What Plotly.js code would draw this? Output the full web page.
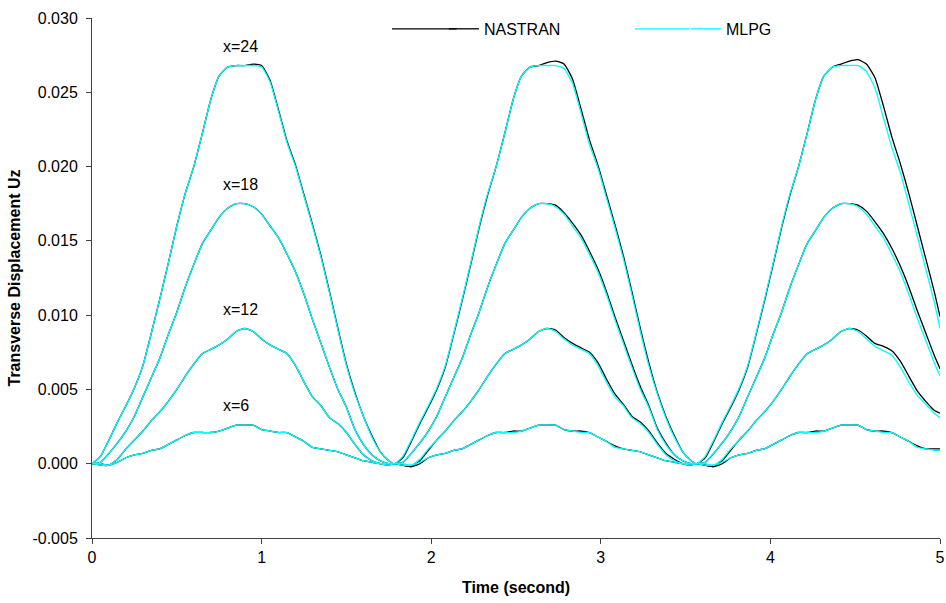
<!DOCTYPE html>
<html>
<head>
<meta charset="utf-8">
<script src="https://cdn.plot.ly/plotly-3.0.1.min.js"></script>
<style>html,body{margin:0;padding:0;background:#fff;}#chart{width:946px;height:603px;}</style>
</head>
<body>
<div id="chart"></div>
<script>
// Time (second)
const time = [
0,0.05,0.1,0.15,0.2,0.25,0.3,0.35,0.4,0.45,0.5,0.55,0.6,0.65,0.7,0.75,0.8,0.85,0.9,0.95,1,1.05,1.1,1.15,1.2,1.25,1.3,1.35,1.4,1.45,1.5,1.55,1.6,1.65,1.7,1.75,
1.783,1.833,1.883,1.933,1.983,2.033,2.083,2.133,2.183,2.233,2.283,2.333,2.383,2.433,2.483,2.533,2.583,2.633,2.683,2.733,2.783,2.833,2.883,2.933,2.983,3.033,3.083,3.133,3.183,3.233,3.283,3.333,3.383,3.433,3.483,3.533,
3.566,3.616,3.666,3.716,3.766,3.816,3.866,3.916,3.966,4.016,4.066,4.116,4.166,4.216,4.266,4.316,4.366,4.416,4.466,4.516,4.566,4.616,4.666,4.716,4.766,4.816,4.866,4.916,4.966,5
];

// NASTRAN series
const nastranX24 = [
0,0.0005,0.0016,0.0028,0.0039,0.0051,0.0066,0.0088,0.0111,0.0135,0.0160,0.0182,0.0200,0.0222,0.0245,0.0261,0.0267,0.0268,0.0268,0.0269,0.0268,0.0258,0.0238,0.0217,0.0201,0.0181,0.0161,0.0140,0.0116,0.0091,0.0067,0.0048,0.0032,0.0019,0.0008,0.0002,
0,0.0004,0.0015,0.0027,0.0038,0.0050,0.0065,0.0087,0.0110,0.0134,0.0159,0.0181,0.0200,0.0222,0.0245,0.0261,0.0267,0.0268,0.0270,0.0271,0.0269,0.0259,0.0239,0.0218,0.0201,0.0181,0.0161,0.0140,0.0116,0.0091,0.0068,0.0048,0.0032,0.0019,0.0008,0.0002,
0,0.0004,0.0015,0.0027,0.0038,0.0050,0.0065,0.0087,0.0110,0.0134,0.0159,0.0181,0.0200,0.0222,0.0245,0.0261,0.0267,0.0269,0.0271,0.0272,0.0269,0.0260,0.0241,0.0220,0.0202,0.0182,0.0160,0.0138,0.0116,0.0099
];
const nastranX18 = [
0,0.0001,0.0007,0.0014,0.0022,0.0032,0.0045,0.0058,0.0071,0.0087,0.0102,0.0119,0.0134,0.0148,0.0157,0.0166,0.0172,0.0175,0.0175,0.0173,0.0168,0.0160,0.0152,0.0141,0.0129,0.0114,0.0097,0.0081,0.0065,0.0050,0.0038,0.0023,0.0013,0.0006,0.0002,0.0000,
0,0.0001,0.0007,0.0014,0.0022,0.0032,0.0045,0.0058,0.0071,0.0087,0.0102,0.0119,0.0134,0.0148,0.0157,0.0166,0.0172,0.0175,0.0175,0.0174,0.0169,0.0162,0.0154,0.0143,0.0131,0.0116,0.0099,0.0083,0.0067,0.0052,0.0039,0.0024,0.0014,0.0006,0.0002,0.0000,
0,0.0001,0.0007,0.0014,0.0022,0.0032,0.0045,0.0058,0.0071,0.0087,0.0102,0.0119,0.0134,0.0148,0.0157,0.0166,0.0172,0.0175,0.0175,0.0174,0.0170,0.0163,0.0155,0.0145,0.0133,0.0119,0.0103,0.0088,0.0073,0.0064
];
const nastranX12 = [
0,-0.0001,-0.0001,0.0003,0.0010,0.0016,0.0022,0.0029,0.0035,0.0042,0.0050,0.0059,0.0067,0.0074,0.0077,0.0080,0.0084,0.0089,0.0091,0.0089,0.0084,0.0080,0.0077,0.0074,0.0066,0.0055,0.0045,0.0039,0.0031,0.0027,0.0021,0.0013,0.0006,0.0002,0.0000,-0.0001,
0,-0.0001,-0.0002,0.0002,0.0009,0.0016,0.0022,0.0029,0.0035,0.0042,0.0050,0.0059,0.0067,0.0074,0.0077,0.0080,0.0084,0.0089,0.0091,0.0090,0.0085,0.0081,0.0078,0.0075,0.0068,0.0057,0.0047,0.0040,0.0032,0.0028,0.0022,0.0014,0.0007,0.0003,0.0000,-0.0001,
0,-0.0001,-0.0002,0.0002,0.0009,0.0016,0.0022,0.0029,0.0035,0.0042,0.0050,0.0059,0.0067,0.0074,0.0077,0.0080,0.0084,0.0089,0.0091,0.0090,0.0086,0.0081,0.0079,0.0076,0.0069,0.0059,0.0049,0.0042,0.0036,0.0034
];
const nastranX6 = [
0,0.0000,-0.0001,0.0001,0.0004,0.0006,0.0007,0.0009,0.0010,0.0013,0.0016,0.0019,0.0021,0.0021,0.0021,0.0022,0.0024,0.0026,0.0026,0.0026,0.0023,0.0022,0.0021,0.0021,0.0018,0.0015,0.0011,0.0010,0.0009,0.0008,0.0006,0.0004,0.0002,0.0001,0.0000,0.0000,
0,-0.0001,-0.0002,0.0000,0.0004,0.0006,0.0007,0.0009,0.0010,0.0013,0.0016,0.0019,0.0021,0.0021,0.0022,0.0022,0.0024,0.0026,0.0026,0.0026,0.0023,0.0022,0.0022,0.0021,0.0018,0.0015,0.0012,0.0010,0.0009,0.0008,0.0006,0.0004,0.0002,0.0001,0.0000,0.0000,
0,-0.0001,-0.0002,0.0000,0.0004,0.0006,0.0007,0.0009,0.0010,0.0013,0.0016,0.0019,0.0021,0.0021,0.0022,0.0022,0.0024,0.0026,0.0026,0.0026,0.0023,0.0022,0.0022,0.0021,0.0018,0.0015,0.0012,0.0010,0.0010,0.0010
];

// MLPG series
const mlpgX24 = [
0,0.0005,0.0016,0.0028,0.0039,0.0051,0.0066,0.0088,0.0111,0.0135,0.0160,0.0182,0.0200,0.0222,0.0245,0.0261,0.0267,0.0268,0.0268,0.0268,0.0267,0.0257,0.0237,0.0216,0.0200,0.0180,0.0160,0.0139,0.0115,0.0090,0.0066,0.0047,0.0032,0.0018,0.0008,0.0002,
0,0.0005,0.0016,0.0028,0.0039,0.0051,0.0066,0.0088,0.0111,0.0135,0.0160,0.0182,0.0200,0.0222,0.0245,0.0261,0.0267,0.0268,0.0268,0.0268,0.0266,0.0256,0.0236,0.0215,0.0199,0.0179,0.0159,0.0138,0.0114,0.0089,0.0066,0.0047,0.0031,0.0018,0.0008,0.0002,
0,0.0005,0.0016,0.0028,0.0039,0.0051,0.0066,0.0088,0.0111,0.0135,0.0160,0.0182,0.0200,0.0222,0.0245,0.0261,0.0267,0.0268,0.0268,0.0268,0.0264,0.0253,0.0233,0.0213,0.0196,0.0175,0.0153,0.0131,0.0109,0.0091
];
const mlpgX18 = [
0,0.0001,0.0007,0.0014,0.0022,0.0032,0.0045,0.0058,0.0071,0.0087,0.0102,0.0119,0.0134,0.0148,0.0157,0.0166,0.0172,0.0175,0.0175,0.0173,0.0168,0.0160,0.0152,0.0141,0.0129,0.0114,0.0097,0.0081,0.0065,0.0050,0.0038,0.0023,0.0013,0.0006,0.0002,0.0000,
0,0.0001,0.0007,0.0014,0.0022,0.0032,0.0045,0.0058,0.0071,0.0087,0.0102,0.0119,0.0134,0.0148,0.0157,0.0166,0.0172,0.0175,0.0175,0.0173,0.0168,0.0160,0.0152,0.0141,0.0129,0.0114,0.0097,0.0081,0.0065,0.0050,0.0038,0.0023,0.0013,0.0006,0.0002,0.0000,
0,0.0001,0.0007,0.0014,0.0022,0.0032,0.0045,0.0058,0.0071,0.0087,0.0102,0.0119,0.0134,0.0148,0.0157,0.0166,0.0172,0.0175,0.0175,0.0173,0.0168,0.0160,0.0152,0.0141,0.0129,0.0114,0.0098,0.0083,0.0068,0.0059
];
const mlpgX12 = [
0,-0.0001,-0.0001,0.0003,0.0010,0.0016,0.0022,0.0029,0.0035,0.0042,0.0050,0.0059,0.0067,0.0074,0.0077,0.0080,0.0084,0.0089,0.0091,0.0089,0.0084,0.0080,0.0077,0.0074,0.0066,0.0055,0.0045,0.0039,0.0031,0.0027,0.0021,0.0013,0.0006,0.0002,0.0000,-0.0001,
0,-0.0001,-0.0001,0.0003,0.0010,0.0016,0.0022,0.0029,0.0035,0.0042,0.0050,0.0059,0.0067,0.0074,0.0077,0.0080,0.0084,0.0089,0.0091,0.0089,0.0084,0.0080,0.0077,0.0074,0.0066,0.0055,0.0045,0.0039,0.0031,0.0027,0.0021,0.0013,0.0006,0.0002,0.0000,-0.0001,
0,-0.0001,-0.0001,0.0003,0.0010,0.0016,0.0022,0.0029,0.0035,0.0042,0.0050,0.0059,0.0067,0.0074,0.0077,0.0080,0.0084,0.0089,0.0091,0.0089,0.0084,0.0079,0.0076,0.0073,0.0065,0.0055,0.0046,0.0040,0.0034,0.0031
];
const mlpgX6 = [
0,0.0000,-0.0001,0.0001,0.0004,0.0006,0.0007,0.0009,0.0010,0.0013,0.0016,0.0019,0.0021,0.0021,0.0021,0.0022,0.0024,0.0026,0.0026,0.0026,0.0023,0.0022,0.0021,0.0021,0.0018,0.0015,0.0011,0.0010,0.0009,0.0008,0.0006,0.0004,0.0002,0.0001,0.0000,0.0000,
0,0.0000,-0.0001,0.0001,0.0004,0.0006,0.0007,0.0009,0.0010,0.0013,0.0016,0.0019,0.0021,0.0021,0.0021,0.0022,0.0024,0.0026,0.0026,0.0026,0.0023,0.0022,0.0021,0.0021,0.0018,0.0015,0.0011,0.0010,0.0009,0.0008,0.0006,0.0004,0.0002,0.0001,0.0000,0.0000,
0,0.0000,-0.0001,0.0001,0.0004,0.0006,0.0007,0.0009,0.0010,0.0013,0.0016,0.0019,0.0021,0.0021,0.0021,0.0022,0.0024,0.0026,0.0026,0.0026,0.0023,0.0022,0.0021,0.0021,0.0018,0.0015,0.0011,0.0010,0.0009,0.0009
];

const curveLabels = ['x=24','x=18','x=12','x=6'];
const labelTime = [0.874,0.874,0.874,0.85];
const labelValue = [0.0281,0.0188,0.01036,0.0039];
const seriesNames = ['NASTRAN','MLPG'];
const yTickVals = [-0.005,0,0.005,0.01,0.015,0.02,0.025,0.03];
const yTickText = ['-0.005','0.000','0.005','0.010','0.015','0.020','0.025','0.030'];
const xTickVals = [0,1,2,3,4,5];
const xTickText = ['0','1','2','3','4','5'];

const FONT = 'Liberation Sans, Arial, sans-serif';
const FS = 16;
const nastranSets = [nastranX24, nastranX18, nastranX12, nastranX6];
const mlpgSets = [mlpgX24, mlpgX18, mlpgX12, mlpgX6];
const traces = [];
nastranSets.forEach((ys, i) => traces.push({
  x: time, y: ys, type: 'scatter', mode: 'lines', name: seriesNames[0],
  legendgroup: 'n', showlegend: i === 0,
  line: {color: '#000000', width: 1.3, shape: 'spline', smoothing: 0.5},
  hoverinfo: 'skip'
}));
mlpgSets.forEach((ys, i) => traces.push({
  x: time, y: ys, type: 'scatter', mode: 'lines', name: seriesNames[1],
  legendgroup: 'm', showlegend: i === 0,
  line: {color: '#00FFFF', width: 1.3, shape: 'spline', smoothing: 0.5},
  hoverinfo: 'skip'
}));

const annotations = curveLabels.map((t, i) => ({
  x: labelTime[i], y: labelValue[i], xref: 'x', yref: 'y', text: t,
  showarrow: false, font: {family: FONT, size: FS, color: '#000'}
}));

// legend sample line extensions (longer samples like the original)
const legendY = 0.979;
const shapes = [
  {type: 'line', xref: 'paper', yref: 'paper', x0: 0.3538, x1: 0.43, y0: legendY, y1: legendY, line: {color: '#000000', width: 1.3}},
  {type: 'line', xref: 'paper', yref: 'paper', x0: 0.6403, x1: 0.705, y0: legendY, y1: legendY, line: {color: '#00FFFF', width: 1.3}}
];

const layout = {
  width: 946, height: 603,
  margin: {l: 92, r: 6, t: 18, b: 65, autoexpand: false},
  paper_bgcolor: '#ffffff', plot_bgcolor: '#ffffff',
  font: {family: FONT, size: FS, color: '#000'},
  showlegend: true,
  legend: {
    orientation: 'h', x: 0.415, y: legendY, xanchor: 'left', yanchor: 'middle',
    entrywidth: 197, entrywidthmode: 'pixels',
    font: {family: FONT, size: FS, color: '#000'}, bgcolor: 'rgba(0,0,0,0)'
  },
  xaxis: {
    range: [0, 5], tickvals: xTickVals, ticktext: xTickText,
    showgrid: false, zeroline: false, showline: true, linecolor: '#404040', linewidth: 1,
    ticks: 'outside', ticklen: 5, tickcolor: '#404040',
    tickfont: {family: FONT, size: FS, color: '#000'},
    title: {text: '<b>Time (second)</b>', font: {family: FONT, size: FS, color: '#000'}, standoff: 16}
  },
  yaxis: {
    range: [-0.005, 0.03], tickvals: yTickVals, ticktext: yTickText,
    showgrid: false, zeroline: false, showline: true, linecolor: '#404040', linewidth: 1,
    ticks: 'outside', ticklen: 5, tickcolor: '#404040', ticklabelstandoff: 5,
    tickfont: {family: FONT, size: FS, color: '#000'},
    title: {text: '<b>Transverse Displacement Uz</b>', font: {family: FONT, size: FS, color: '#000'}, standoff: 7}
  },
  shapes: shapes,
  annotations: annotations
};

Plotly.newPlot('chart', traces, layout, {displayModeBar: false, staticPlot: true});
</script>
</body>
</html>
